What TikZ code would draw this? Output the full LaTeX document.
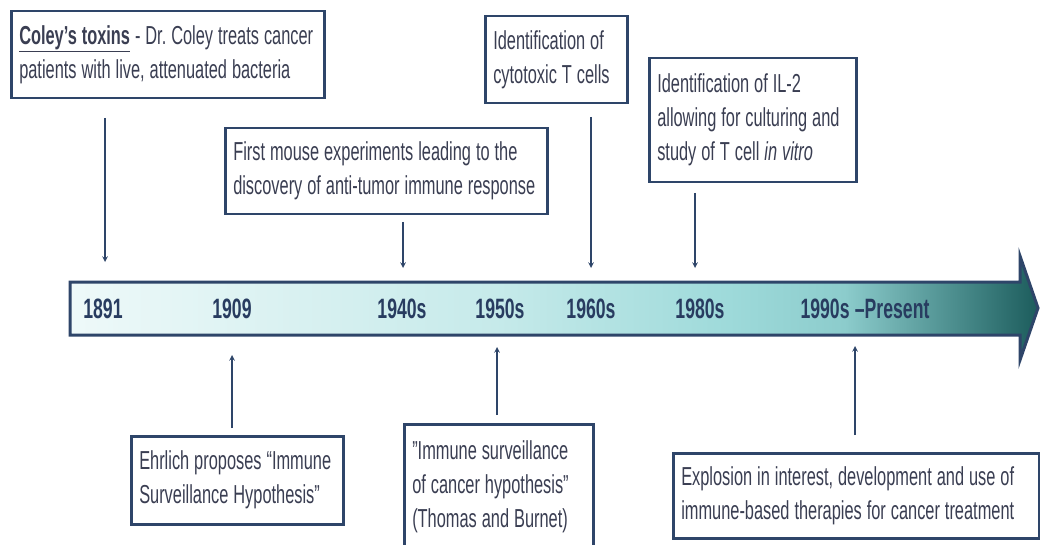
\documentclass[tikz,border=0pt]{standalone}
\usepackage{fontspec}
\setmainfont[FakeStretch=0.63]{Liberation Sans}
\usetikzlibrary{positioning}
\definecolor{navy}{RGB}{46,69,105}
\definecolor{boxtext}{RGB}{58,62,82}
\definecolor{yeartext}{RGB}{40,60,96}
\definecolor{tlA}{RGB}{238,249,249}
\definecolor{tlB}{RGB}{198,234,234}
\definecolor{tlC}{RGB}{158,218,218}
\definecolor{tlD}{RGB}{140,204,204}
\definecolor{tlE}{RGB}{72,138,138}
\definecolor{tlF}{RGB}{28,92,92}
\pgfdeclarehorizontalshading{tlshade}{100bp}{color(0bp)=(tlA); color(25bp)=(tlA); color(47bp)=(tlB); color(59bp)=(tlC); color(65bp)=(tlD); color(71bp)=(tlE); color(75bp)=(tlF); color(100bp)=(tlF)}
% 狭い字間
\newcommand\tightspace{\spaceskip=0.19em plus 0.03em\xspaceskip=0.19em plus 0.03em\hyphenpenalty=10000\relax}
\tikzset{
  eventbox/.style={draw=navy, line width=2.5pt, fill=white, anchor=north west,
    align=left, inner xsep=8pt, text=boxtext, font=\fontsize{26}{34}\selectfont,
    execute at begin node=\tightspace},
  year/.style={anchor=base, text=yeartext, font=\bfseries\fontsize{28}{30}\selectfont,
    execute at begin node=\tightspace},
  tick/.style={draw=navy, line width=1.5pt, -stealth}
}
\begin{document}
\begin{tikzpicture}[x=1pt, y=-1pt]
    \useasboundingbox (0,0) rectangle (1040,545);
    % 時間軸の矢印
    \shadedraw[shading=tlshade, draw=navy, line width=3pt, line join=miter]
      (70,282)--(1020,282)--(1020,256)--(1038,308)--(1020,360)--(1020,335)--(70,335)--cycle;
    % 年のラベル
    \node[year] (y1891) at (103,318) {1891};
    \node[year] (y1909) at (232,318) {1909};
    \node[year] (y1940) at (402,318) {1940s};
    \node[year] (y1950) at (500,318) {1950s};
    \node[year] (y1960) at (591,318) {1960s};
    \node[year] (y1980) at (700,318) {1980s};
    \node[year] (y1990) at (865,318) {1990s –Present};
    % 上の出来事
    \node[eventbox, text width=297pt, minimum height=87pt] (coley) at (10,10)
      {\underline{\textbf{Coley's toxins}} - Dr. Coley treats cancer\\ patients with live, attenuated bacteria};
    \node[eventbox, text width=306pt, minimum height=86pt] (mouse) at (224,127)
      {First mouse experiments leading to the\\ discovery of anti-tumor immune response};
    \node[eventbox, text width=126pt, minimum height=87pt] (cytotox) at (484,15)
      {Identification of\\ cytotoxic T cells};
    \node[eventbox, text width=191pt, minimum height=124pt] (iltwo) at (648,57)
      {Identification of IL-2\\ allowing for culturing and\\ study of T cell \textit{in vitro}};
    % 下の出来事
    \node[eventbox, text width=196pt, minimum height=88pt] (ehrlich) at (130,435)
      {Ehrlich proposes “Immune\\ Surveillance Hypothesis”};
    \node[eventbox, text width=173pt, minimum height=126pt] (surveil) at (403,423)
      {"Immune surveillance\\ of cancer hypothesis"\\ (Thomas and Burnet)};
    \node[eventbox, text width=350pt, minimum height=85pt] (explosion) at (672,452)
      {Explosion in interest, development and use of\\ immune-based therapies for cancer treatment};
    % 矢印の端点
    \coordinate (coleyS) at (105,118);   \coordinate (coleyE) at (105,262);
    \coordinate (mouseS) at (403,222);   \coordinate (mouseE) at (403,268);
    \coordinate (cytoS) at (591,117);    \coordinate (cytoE) at (591,268);
    \coordinate (ilS) at (695,193);      \coordinate (ilE) at (695,268);
    \coordinate (ehrS) at (232,428);     \coordinate (ehrE) at (232,355);
    \coordinate (survS) at (497,415);    \coordinate (survE) at (497,347);
    \coordinate (explS) at (855,435);    \coordinate (explE) at (855,346);
    \draw[tick] (coleyS)--(coleyE);
    \draw[tick] (mouseS)--(mouseE);
    \draw[tick] (cytoS)--(cytoE);
    \draw[tick] (ilS)--(ilE);
    \draw[tick] (ehrS)--(ehrE);
    \draw[tick] (survS)--(survE);
    \draw[tick] (explS)--(explE);
\end{tikzpicture}
\end{document}
